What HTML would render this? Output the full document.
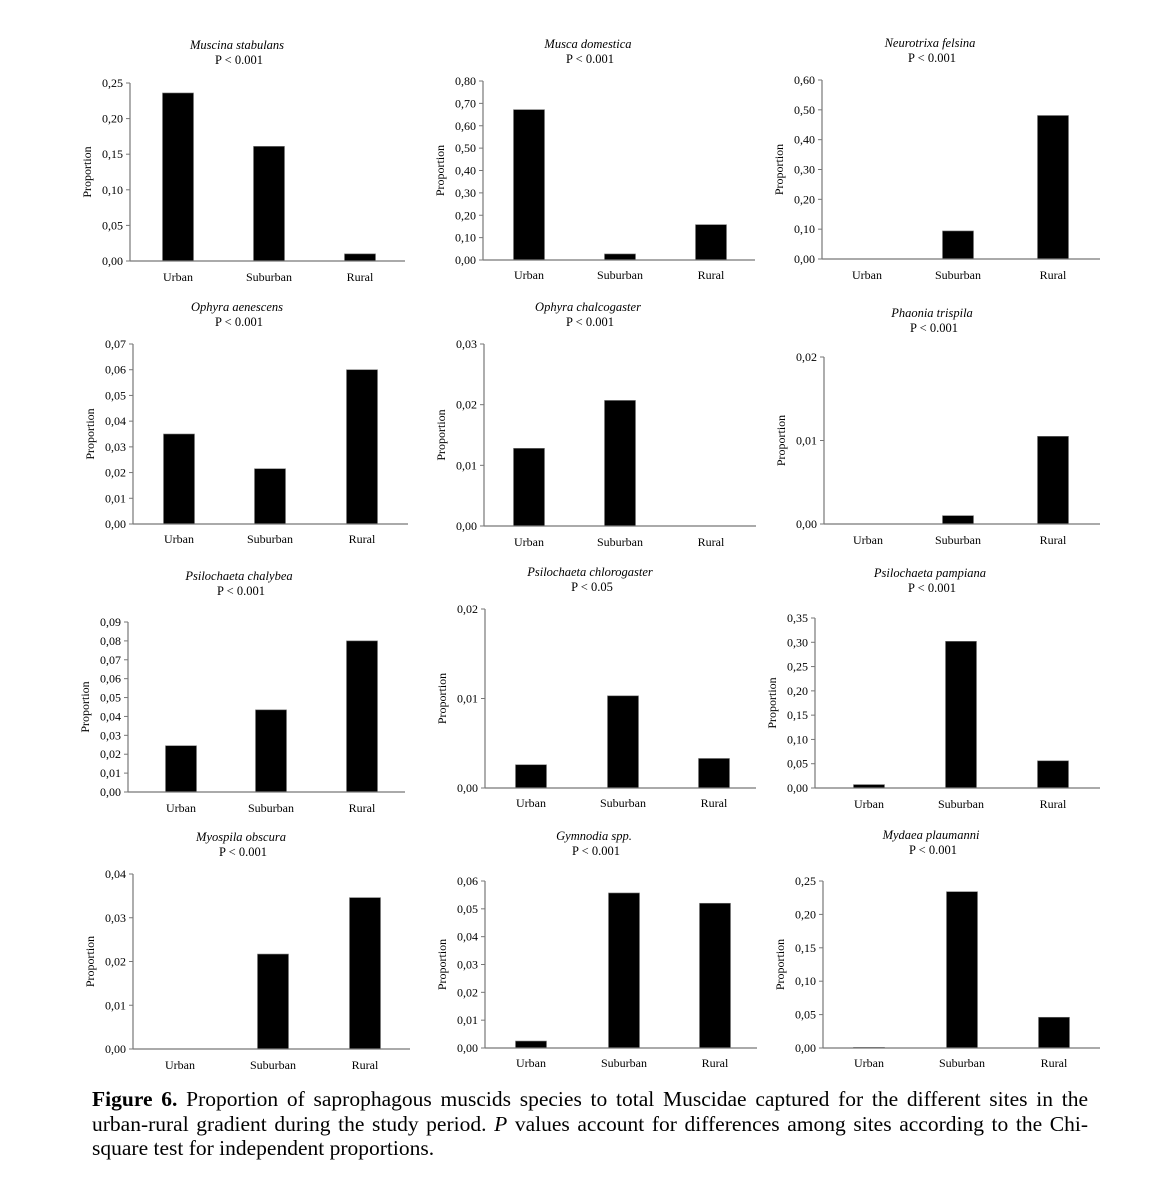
<!DOCTYPE html>
<html><head><meta charset="utf-8"><style>
body{margin:0;background:#fff;width:1163px;height:1179px;overflow:hidden;position:relative}
svg{position:absolute;left:0;top:0}
#cap{position:absolute;left:92px;top:1087px;width:996px;font-family:"Liberation Serif",serif;font-size:21.5px;line-height:24.5px;color:#000}
#cap .j{text-align:justify;text-align-last:justify;white-space:nowrap}
</style></head><body>
<svg id="fig" width="1163" height="1179" font-family="Liberation Serif, serif"></svg>
<div id="cap"><div class="j"><b>Figure 6.</b> Proportion of saprophagous muscids species to total Muscidae captured for the different sites in the</div><div class="j">urban-rural gradient during the study period. <i>P</i> values account for differences among sites according to the Chi-</div><div>square test for independent proportions.</div></div>
<script>
const categories=["Urban","Suburban","Rural"];
const titles=["Muscina stabulans","Musca domestica","Neurotrixa felsina","Ophyra aenescens","Ophyra chalcogaster","Phaonia trispila","Psilochaeta chalybea","Psilochaeta chlorogaster","Psilochaeta pampiana","Myospila obscura","Gymnodia  spp.","Mydaea plaumanni"];
const pvalues=["P < 0.001","P < 0.001","P < 0.001","P < 0.001","P < 0.001","P < 0.001","P < 0.001","P < 0.05","P < 0.001","P < 0.001","P < 0.001","P < 0.001"];
const values1=[0.236,0.161,0.010];
const values2=[0.672,0.027,0.158];
const values3=[0,0.094,0.481];
const values4=[0.035,0.0215,0.060];
const values5=[0.0128,0.0207,0];
const values6=[0,0.001,0.0105];
const values7=[0.0245,0.0435,0.080];
const values8=[0.0026,0.0103,0.0033];
const values9=[0.007,0.302,0.056];
const values10=[0,0.0217,0.0346];
const values11=[0.0025,0.0557,0.0520];
const values12=[0.001,0.234,0.046];
const allValues=[values1,values2,values3,values4,values5,values6,values7,values8,values9,values10,values11,values12];
const yMax=[0.25,0.80,0.60,0.07,0.03,0.02,0.09,0.02,0.35,0.04,0.06,0.25];
const yStep=[0.05,0.10,0.10,0.01,0.01,0.01,0.01,0.01,0.05,0.01,0.01,0.05];
// layout: [axisX, topY, bottomY, rightX, c1,c2,c3, titleY, labelY, titleX]
const L=[
[130,83,261,405,178,269,360,45,277,237],
[483,81,260,755,529,620,711,44,275,588],
[822,80,259,1100,867,958,1053,43,275,930],
[133,344,524,408,179,270,362,307,539,237],
[484,344,526,756,529,620,711,307,542,588],
[824,357,524,1100,868,958,1053,313,540,932],
[128,622,792,405,181,271,362,576,808,239],
[485,609,788,756,531,623,714,572,803,590],
[815,618,788,1100,869,961,1053,573,804,930],
[133,874,1049,410,180,273,365,837,1065,241],
[485,881,1048,757,531,624,715,836,1063,594],
[823,881,1048,1100,869,962,1054,835,1063,931]];
const NS="http://www.w3.org/2000/svg";
const svg=document.getElementById('fig');
function mk(t,a,p){const e=document.createElementNS(NS,t);for(const k in a)e.setAttribute(k,a[k]);(p||svg).appendChild(e);return e;}
allValues.forEach((vals,i)=>{
  const [ax,ty,by,rx,c1,c2,c3,tY,lY,tX]=L[i];
  const cx=[c1,c2,c3];
  const y=v=>by-(v/yMax[i])*(by-ty);
  const g=mk('g',{});
  
  
  const t=mk('text',{x:tX,y:tY+4,'text-anchor':'middle','font-size':'12.5','font-style':'italic'},g);
  t.textContent=titles[i];
  
  
  const p=mk('text',{x:tX+2,y:tY+19,'text-anchor':'middle','font-size':'12.5'},g);
  p.textContent=pvalues[i];
  
  
  const n=Math.round(yMax[i]/yStep[i]);
  for(let k=0;k<=n;k++){
    const v=k*yStep[i], yy=y(v);
    const tk=mk('line',{x1:ax-4,x2:ax,y1:yy,y2:yy,stroke:'#777','stroke-width':1},g);
    
    
    const tl=mk('text',{x:ax-7,y:yy+4,'text-anchor':'end','font-size':'12'},g);
    tl.textContent=v.toFixed(2).replace('.',',');
    
    
  }
  const ya=mk('line',{x1:ax,x2:ax,y1:ty,y2:by,stroke:'#777','stroke-width':1.2},g);
  
  
  const yt=mk('text',{transform:`translate(${ax-39},${(ty+by)/2}) rotate(-90)`,'text-anchor':'middle','font-size':'12'},g);
  yt.textContent='Proportion';
  
  
  vals.forEach((v,j)=>{
    const top=y(v);
    const b=mk('rect',{x:cx[j]-15.5,y:top,width:31,height:Math.max(0,by-top),fill:'#000',stroke:'#777','stroke-width':0.6},g);
    
    
    const cl=mk('text',{x:cx[j],y:lY+4,'text-anchor':'middle','font-size':'12'},g);
    cl.textContent=categories[j];
    
    
  });
  const xa=mk('line',{x1:ax,x2:rx,y1:by,y2:by,stroke:'#777','stroke-width':1.2},g);
  
  
});
</script>
</body></html>
